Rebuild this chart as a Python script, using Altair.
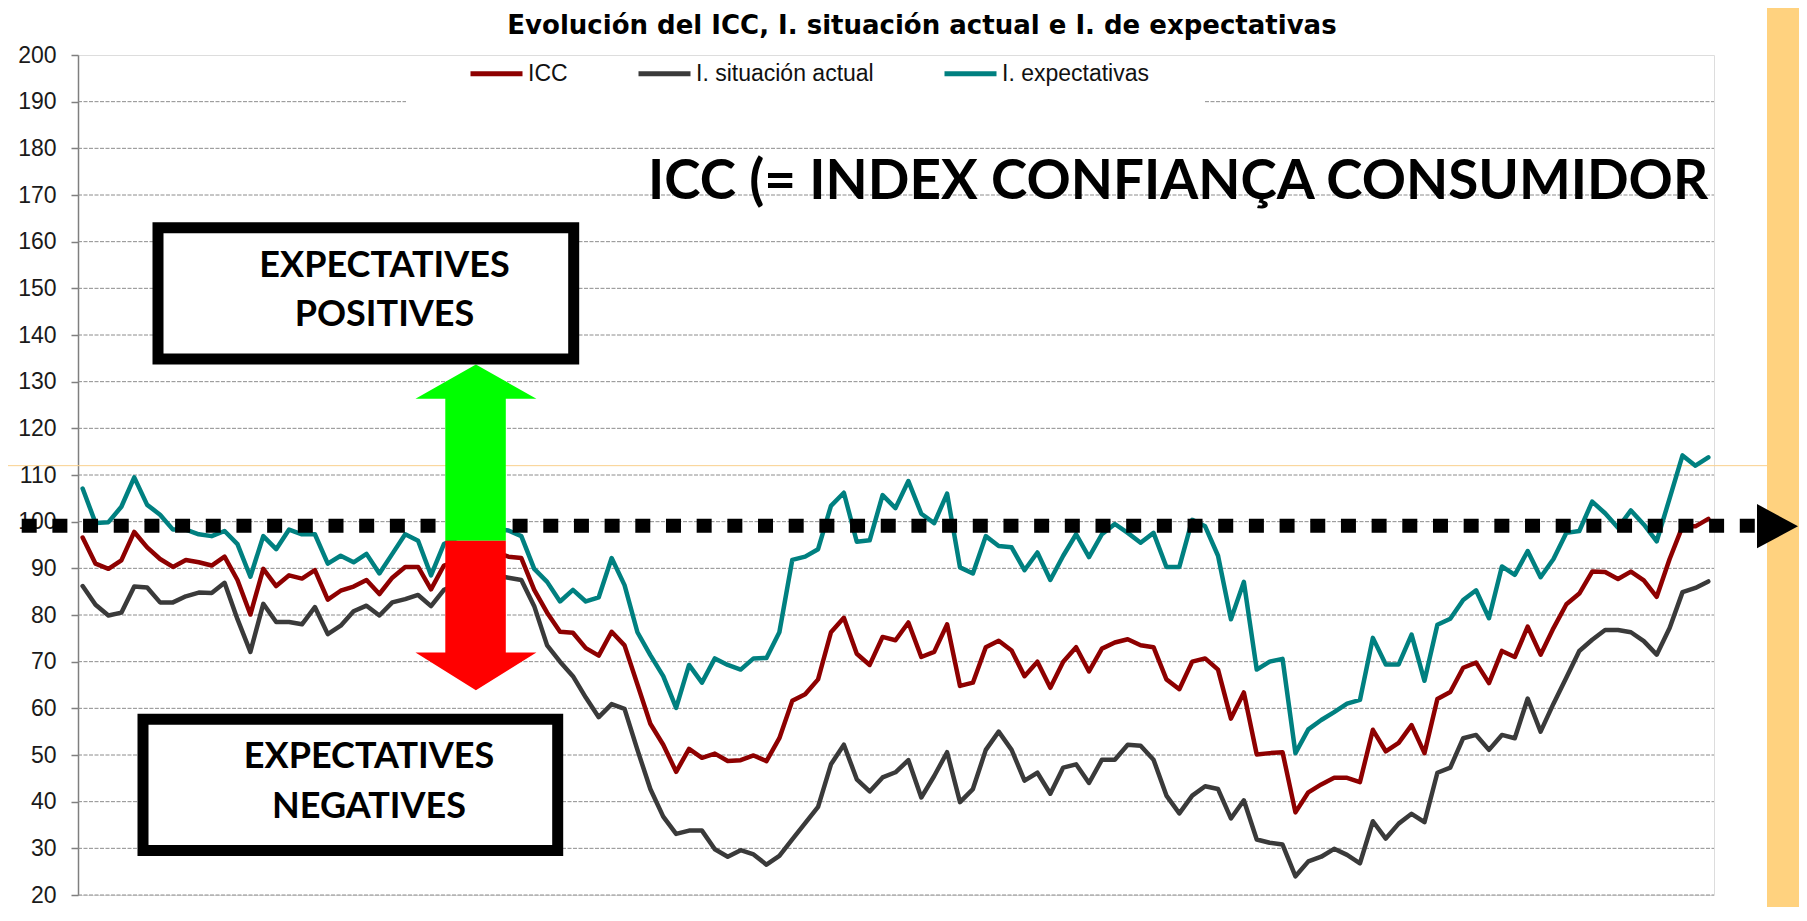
import altair as alt
import pandas as pd

# ---------------- data (monthly index) ----------------
icc = [96.6, 91.0, 89.9, 91.7, 97.8, 94.5, 92.0, 90.3, 91.8, 91.3,
       90.6, 92.5, 87.5, 80.1, 89.9, 86.2, 88.5, 87.8, 89.6, 83.3,
       85.2, 86.1, 87.5, 84.5, 88.0, 90.3, 90.3, 85.5, 90.6, 91.5,
       93.0, 93.7, 93.5, 92.5, 92.2, 85.4, 80.5, 76.4, 76.2, 72.9,
       71.3, 76.4, 73.5, 65.1, 56.7, 52.2, 46.4, 51.3, 49.4, 50.3,
       48.7, 48.9, 49.9, 48.7, 53.6, 61.6, 63.0, 66.2, 76.3, 79.4,
       71.7, 69.3, 75.3, 74.6, 78.4, 71.0, 72.1, 78.0, 64.8, 65.5,
       73.1, 74.5, 72.4, 66.9, 70.0, 64.4, 70.0, 73.1, 67.9, 72.8,
       74.1, 74.8, 73.5, 73.1, 66.2, 64.1, 70.0, 70.7, 68.3, 57.8,
       63.4, 50.1, 50.4, 50.6, 37.7, 42.0, 43.7, 45.1, 45.1, 44.2,
       55.4, 50.8, 52.6, 56.4, 50.4, 62.0, 63.5, 68.7, 69.8, 65.4,
       72.3, 71.0, 77.5, 71.5, 77.2, 82.3, 84.6, 89.3, 89.2, 87.7,
       89.3, 87.4, 83.9, 92.0, 99.0, 99.0, 100.6]

situacion_actual = [86.2, 82.2, 79.9, 80.5, 86.1, 85.9, 82.7, 82.7, 84.0, 84.8,
                    84.7, 86.9, 79.1, 72.1, 82.4, 78.5, 78.5, 78.0, 81.7, 75.9,
                    77.7, 80.8, 82.0, 79.9, 82.7, 83.4, 84.3, 81.9, 85.4, 86.5,
                    87.5, 88.0, 88.5, 88.0, 87.5, 81.9, 73.5, 70.0, 66.9, 62.3,
                    58.1, 60.9, 59.9, 51.1, 42.7, 36.8, 33.1, 33.8, 33.8, 29.8,
                    28.2, 29.6, 28.7, 26.5, 28.4, 31.9, 35.4, 38.9, 48.0, 52.2,
                    44.8, 42.2, 45.2, 46.3, 48.9, 40.9, 45.5, 50.6, 39.9, 42.7,
                    51.1, 55.0, 51.1, 44.5, 46.2, 41.7, 47.3, 48.0, 44.0, 49.0,
                    49.0, 52.2, 52.0, 49.0, 41.3, 37.5, 41.3, 43.3, 42.7, 36.4,
                    40.3, 31.9, 31.2, 30.8, 24.0, 27.2, 28.2, 29.9, 28.6, 26.8,
                    35.8, 32.1, 35.3, 37.4, 35.6, 46.2, 47.3, 53.6, 54.3, 51.1,
                    54.3, 53.6, 62.1, 55.0, 61.0, 66.6, 72.3, 74.7, 76.8, 76.8,
                    76.3, 74.4, 71.5, 77.2, 84.9, 85.8, 87.2]

expectativas = [107.1, 99.7, 99.9, 103.2, 109.5, 103.6, 101.5, 98.3, 98.3, 97.3,
                96.9, 98.0, 95.2, 88.2, 96.9, 94.1, 98.3, 97.3, 97.3, 91.0,
                92.7, 91.3, 93.1, 88.9, 93.1, 97.3, 95.9, 88.5, 95.2, 96.5,
                98.5, 99.5, 98.5, 98.1, 96.9, 89.9, 87.1, 82.9, 85.4, 82.9,
                83.8, 92.2, 86.4, 76.3, 71.4, 66.9, 60.1, 69.3, 65.5, 70.7,
                69.3, 68.3, 70.7, 70.8, 76.3, 91.8, 92.5, 94.1, 103.4, 106.2,
                95.7, 96.0, 105.7, 102.9, 108.7, 101.7, 99.7, 106.0, 90.2, 88.9,
                96.9, 94.8, 94.5, 89.6, 93.4, 87.5, 92.7, 97.3, 92.4, 97.3,
                99.5, 97.6, 95.5, 97.6, 90.3, 90.3, 100.4, 99.0, 92.7, 79.1,
                87.1, 68.3, 70.0, 70.6, 50.4, 55.5, 57.5, 59.2, 61.0, 61.8,
                75.1, 69.4, 69.4, 75.8, 65.9, 77.9, 79.2, 83.2, 85.3, 79.3,
                90.4, 88.6, 93.7, 88.1, 92.0, 97.6, 98.0, 104.3, 101.8, 98.7,
                102.4, 99.4, 95.8, 105.0, 114.2, 112.0, 113.8]

series_names = ["ICC", "I. situación actual", "I. expectativas"]
series_colors = ["#8E0000", "#3A3A3A", "#008080"]
y_ticks = list(range(20, 201, 10))
grid_values = list(range(20, 190, 10))
reference_level = [99.1]   # big dotted line
orange_level = [112.0]     # thin orange line

TITLE = "Evolución del ICC, I. situación actual e I. de expectativas"
BIG_TEXT = "ICC (= INDEX CONFIANÇA CONSUMIDOR"
POS_LINES = ["EXPECTATIVES", "POSITIVES"]
NEG_LINES = ["EXPECTATIVES", "NEGATIVES"]

# ---------------- layout ----------------
W, H = 1636, 840
PL, PT, PR, PB = 70, 47, 85, 12
X0, Y0 = 78, 55
K = H / 853.0


def px(x):
    return x - X0


def py(y):
    return (y - Y0) * K if y >= Y0 else (y - Y0)


def poly_symbol(points):
    pts = [(px(x), py(y)) for x, y in points]
    xs = [p[0] for p in pts]
    ys = [p[1] for p in pts]
    cx = (min(xs) + max(xs)) / 2
    cy = (min(ys) + max(ys)) / 2
    side = max(max(xs) - min(xs), max(ys) - min(ys))
    h = side / 2
    path = "M " + " L ".join(f"{(x - cx) / h:.4f} {(y - cy) / h:.4f}" for x, y in pts) + " Z"
    return path, side * side, cx, cy


n = len(icc)
df = pd.DataFrame({
    "mes": list(range(n)) * 3,
    "serie": [series_names[0]] * n + [series_names[1]] * n + [series_names[2]] * n,
    "valor": icc + situacion_actual + expectativas,
})
one = pd.DataFrame({"k": [0]})

YS = alt.Scale(domain=[20, 200], nice=False, zero=False)
XS = alt.Scale(domain=[-0.36, 126.44], nice=False, zero=False)
AX = alt.Axis(values=y_ticks, grid=False, title=None, domainColor="#7f7f7f", domainWidth=1.5,
              tickColor="#7f7f7f", tickWidth=1.5, tickSize=7, labelFont="Liberation Sans",
              labelFontSize=23, labelColor="#1a1a1a", labelPadding=15)

grid = alt.Chart(pd.DataFrame({"v": grid_values})).mark_rule(
    color="#8c8c8c", strokeWidth=1, strokeDash=[4, 1.5]
).encode(y=alt.Y("v:Q", scale=YS, axis=AX), x=alt.value(0), x2=alt.value(W))

g190 = pd.DataFrame({"v": [190]})
grid190a = alt.Chart(g190).mark_rule(color="#8c8c8c", strokeWidth=1, strokeDash=[4, 1.5]).encode(
    y=alt.Y("v:Q", scale=YS, axis=AX), x=alt.value(0), x2=alt.value(px(406)))
grid190b = alt.Chart(g190).mark_rule(color="#8c8c8c", strokeWidth=1, strokeDash=[4, 1.5]).encode(
    y=alt.Y("v:Q", scale=YS, axis=AX), x=alt.value(px(1205)), x2=alt.value(W))

orange_line = alt.Chart(pd.DataFrame({"v": orange_level})).mark_rule(
    color="#F9D08C", strokeWidth=1
).encode(y=alt.Y("v:Q", scale=YS, axis=AX), x=alt.value(-PL), x2=alt.value(px(1767)))

lines = alt.Chart(df).mark_line(strokeWidth=4.5, strokeJoin="round", strokeCap="round").encode(
    x=alt.X("mes:Q", scale=XS, axis=None),
    y=alt.Y("valor:Q", scale=YS, axis=AX),
    color=alt.Color("serie:N", scale=alt.Scale(domain=series_names, range=series_colors),
                    legend=alt.Legend(orient="none", legendX=px(468), legendY=-10,
                                      direction="horizontal", title=None, symbolType="stroke",
                                      symbolStrokeWidth=5, symbolSize=2704,
                                      labelFont="Liberation Sans", labelFontSize=23,
                                      labelColor="#111111", labelOffset=3, columnPadding=60,
                                      padding=0, labelLimit=400)),
)

dotted = alt.Chart(pd.DataFrame({"v": reference_level})).mark_rule(
    color="black", strokeWidth=14, strokeDash=[15, 15.68]
).encode(y=alt.Y("v:Q", scale=YS, axis=AX), x=alt.value(px(21.7)), x2=alt.value(px(1755)))

band = alt.Chart(one).mark_rect(color="#FFD27F", opacity=1).encode(
    x=alt.value(px(1767)), x2=alt.value(W + PR + 2), y=alt.value(-PT - 2), y2=alt.value(H + PB + 2))

tri_path, tri_size, tri_x, tri_y = poly_symbol([(1757, 511), (1798, 533.5), (1757, 556)])
triangle = alt.Chart(one).mark_point(shape=tri_path, size=tri_size, filled=True, color="black",
                                     opacity=1, strokeWidth=0).encode(x=alt.value(tri_x), y=alt.value(tri_y))

g_path, g_size, g_x, g_y = poly_symbol([(475.9, 369.3), (536.4, 404), (505.8, 404), (505.8, 548.3),
                                        (445.3, 548.3), (445.3, 404), (415.5, 404)])
green = alt.Chart(one).mark_point(shape=g_path, size=g_size, filled=True, color="#00FF00",
                                  opacity=1, strokeWidth=0).encode(x=alt.value(g_x), y=alt.value(g_y))

r_path, r_size, r_x, r_y = poly_symbol([(445.3, 548.3), (505.8, 548.3), (505.8, 661.7), (536.4, 661.7),
                                        (475.9, 700), (415.5, 661.7), (445.3, 661.7)])
red = alt.Chart(one).mark_point(shape=r_path, size=r_size, filled=True, color="#FF0000",
                                opacity=1, strokeWidth=0).encode(x=alt.value(r_x), y=alt.value(r_y))


def box(x1, y1, x2, y2):
    return alt.Chart(one).mark_rect(fill="white", stroke="black", strokeWidth=11).encode(
        x=alt.value(px(x1)), x2=alt.value(px(x2)), y=alt.value(py(y1)), y2=alt.value(py(y2)))


def label(txt, x, y, size, font="Lato", align="center", weight="bold"):
    return alt.Chart(one).mark_text(text=txt, font=font, fontWeight=weight, fontSize=size,
                                    align=align, baseline="alphabetic", color="black").encode(
        x=alt.value(px(x)), y=alt.value(py(y)))


box_pos = box(158, 230.5, 573.7, 363.8)
box_neg = box(143, 729.5, 557.7, 862.8)
texts = [
    label(POS_LINES[0], 384.5, 280, 36),
    label(POS_LINES[1], 384.5, 330.7, 36),
    label(NEG_LINES[0], 369, 779.3, 36),
    label(NEG_LINES[1], 369, 830, 36),
    label(BIG_TEXT, 648, 201.7, 54.8, align="left"),
    label(TITLE, 922, 34, 26, font="DejaVu Sans"),
]

chart = alt.layer(
    grid, grid190a, grid190b, orange_line, lines, dotted, band, triangle,
    green, red, box_pos, box_neg, *texts
).properties(
    width=W, height=H,
    autosize=alt.AutoSizeParams(type="none"),
    padding={"left": PL, "top": PT, "right": PR, "bottom": PB},
).configure_view(strokeWidth=0).configure(background="white")

chart.save("out.html", embed_options={"renderer": "svg", "actions": False})
